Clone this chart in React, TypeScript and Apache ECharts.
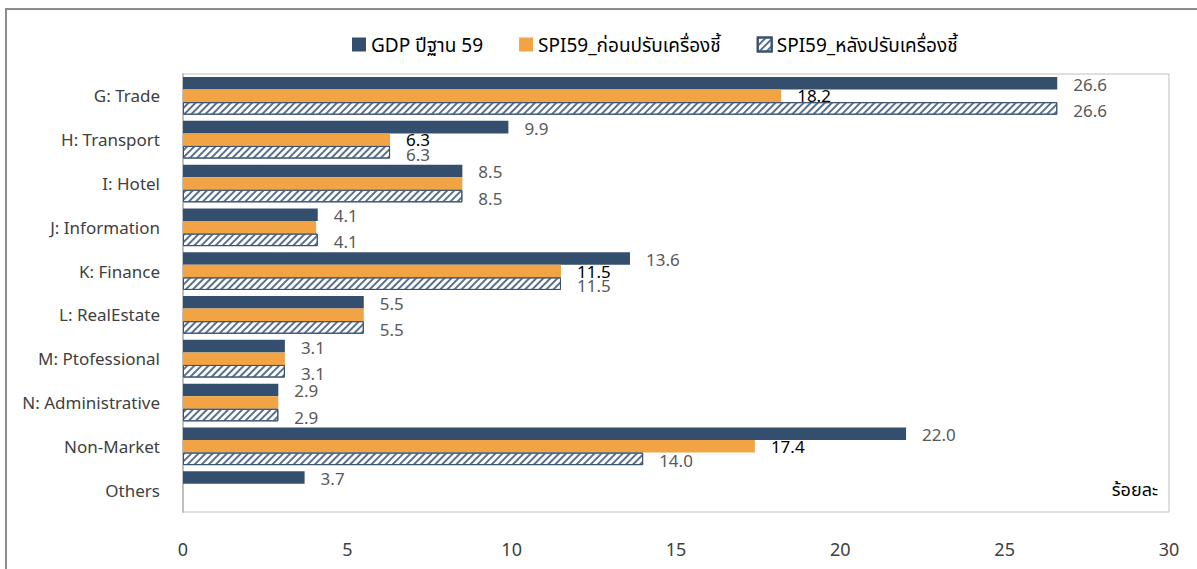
import React, { useEffect, useRef } from "react";
import * as echarts from "echarts";

const categories = [
  "G: Trade",
  "H: Transport",
  "I: Hotel",
  "J: Information",
  "K: Finance",
  "L: RealEstate",
  "M: Ptofessional",
  "N: Administrative",
  "Non-Market",
  "Others",
];
const seriesNames = ["GDP ปีฐาน 59", "SPI59_ก่อนปรับเครื่องชี้", "SPI59_หลังปรับเครื่องชี้"];
const gdpValues = [26.6, 9.9, 8.5, 4.1, 13.6, 5.5, 3.1, 2.9, 22.0, 3.7];
const spiBeforeValues: (number | null)[] = [18.2, 6.3, 8.5, 4.05, 11.5, 5.5, 3.1, 2.9, 17.4, null];
const spiBeforeLabelShown = [true, true, false, false, true, false, false, false, true, false];
const spiAfterValues: (number | null)[] = [26.6, 6.3, 8.5, 4.1, 11.5, 5.5, 3.1, 2.9, 14.0, null];
const xTicks = { min: 0, max: 30, interval: 5 };
const unitLabel = "ร้อยละ";

const FONT = '"Noto Sans", "Noto Sans Thai", sans-serif';
const DARK = "#344f6e";
const ORANGE = "#f2a444";

export default function App() {
  const ref = useRef<HTMLDivElement>(null);
  useEffect(() => {
    if (!ref.current) return;
    const chart = echarts.init(ref.current, undefined, { renderer: "svg" });
    const fmt = (p: any) => (p.value == null ? "" : Number(p.value).toFixed(1));
    const labelBase = {
      show: true,
      position: "right" as const,
      distance: 16,
      offset: [0, 1],
      fontFamily: FONT,
      fontSize: 17,
      color: "#595959",
      formatter: fmt,
    };
    chart.setOption({
      animation: false,
      textStyle: { fontFamily: FONT },
      graphic: [
        {
          type: "rect",
          shape: { x: 6, y: 9, width: 1400, height: 800 },
          style: { fill: "none", stroke: "#8c8c8c", lineWidth: 2 },
          silent: true,
          z: -10,
        },
        {
          type: "text",
          right: 39,
          top: 480,
          style: { text: unitLabel, fontFamily: FONT, fontSize: 18, fill: "#000" },
        },
      ],
      legend: {
        top: 30,
        left: 347,
        itemWidth: 14,
        itemHeight: 14,
        itemGap: 36,
        icon: "rect",
        textStyle: { fontFamily: FONT, fontSize: 19, color: "#000" },
        data: seriesNames,
      },
      grid: {
        left: 183,
        right: 28,
        top: 74,
        bottom: 57,
        show: true,
        borderColor: "#bfbfbf",
        borderWidth: 1,
      },
      xAxis: {
        type: "value",
        min: xTicks.min,
        max: xTicks.max,
        interval: xTicks.interval,
        splitLine: { show: false },
        axisLine: { show: false },
        axisTick: { show: false },
        axisLabel: { margin: 28, fontSize: 18, color: "#404040", fontFamily: FONT },
      },
      yAxis: {
        type: "category",
        inverse: true,
        data: categories,
        axisTick: { show: false },
        axisLine: { show: true, lineStyle: { color: "#bfbfbf", width: 2 } },
        axisLabel: { margin: 23, fontSize: 17, color: "#404040", fontFamily: FONT },
      },
      series: [
        {
          name: seriesNames[0],
          type: "bar",
          data: gdpValues,
          barGap: "0%",
          barCategoryGap: "14%",
          itemStyle: { color: DARK },
          label: labelBase,
        },
        {
          name: seriesNames[1],
          type: "bar",
          data: spiBeforeValues.map((v, i) => ({
            value: v,
            label: { show: spiBeforeLabelShown[i] },
          })),
          itemStyle: { color: ORANGE },
          label: { ...labelBase, color: "#000", offset: [0, 0] },
        },
        {
          name: seriesNames[2],
          type: "bar",
          data: spiAfterValues,
          itemStyle: {
            color: "#ffffff",
            borderColor: "#3a5270",
            borderWidth: 1,
            decal: {
              symbol: "rect",
              symbolSize: 1,
              dashArrayX: [1, 0],
              dashArrayY: [2, 3],
              rotation: -Math.PI / 4,
              color: "#5a7090",
            },
          },
          label: { ...labelBase, offset: [0, 2] },
        },
      ],
    });
    return () => chart.dispose();
  }, []);
  return (
    <div
      ref={ref}
      style={{ position: "fixed", left: 0, top: 0, width: 1197, height: 569, background: "#fff" }}
    />
  );
}
